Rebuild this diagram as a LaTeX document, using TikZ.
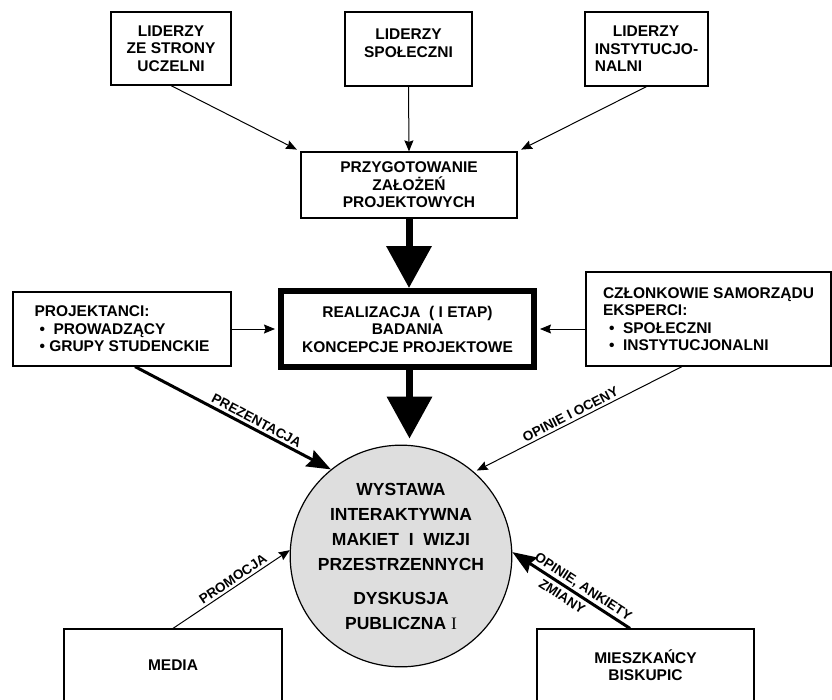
\documentclass[tikz,border=0pt]{standalone}
\usepackage{fontspec}
\setmainfont{Liberation Sans}
\newfontfamily\romanfont{Liberation Serif}
\usetikzlibrary{arrows.meta}

\tikzset{
  box/.style={draw, line width=1.2pt, inner sep=0pt, align=center,
    font=\fontsize{15.5}{17.5}\selectfont\bfseries},
  thin arrow/.style={line width=1pt, -{Stealth[length=11pt,width=9pt,inset=1.5pt]}},
  thick arrow/.style={line width=3pt, -{Stealth[length=24pt,width=18pt,inset=3pt]}},
  big arrow/.style={line width=7pt, -{Triangle[length=42pt,width=44pt]}},
  tag/.style={font=\fontsize{13.5}{14}\selectfont\bfseries, sloped, inner sep=2.5pt}
}

\begin{document}
\begin{tikzpicture}[x=1pt,y=-1pt]
    \path[use as bounding box, clip] (0,0) rectangle (832,699);

    % liderzy
    \node[box, minimum width=120pt, minimum height=73pt] (uczelnia) at (171,48.5)
        {LIDERZY\\ZE STRONY\\UCZELNI};
    \node[box, minimum width=127pt, minimum height=74pt] (spoleczni) at (408.5,49)
        {LIDERZY\\SPOŁECZNI\\[-6pt]\mbox{}};
    \node[box, align=left, minimum width=123pt, minimum height=74pt] (instytucje) at (646.5,49)
        {\hspace*{18pt}LIDERZY\\INSTYTUCJO-\\NALNI};

    \node[box, minimum width=216pt, minimum height=66pt] (przygotowanie) at (409,185)
        {PRZYGOTOWANIE\\ZAŁOŻEŃ\\PROJEKTOWYCH};

    \node[box, line width=6pt, minimum width=253pt, minimum height=76pt] (realizacja) at (407.5,329)
        {REALIZACJA \ ( I ETAP)\\BADANIA\\KONCEPCJE PROJEKTOWE};

    \node[box, align=left, minimum width=218pt, minimum height=74pt] (projektanci) at (122,329)
        {PROJEKTANCI:\\\hspace*{5pt}\textbullet\ \ PROWADZĄCY\\\hspace*{5pt}\textbullet\ GRUPY STUDENCKIE};
    \node[box, align=left, minimum width=245pt, minimum height=94pt] (czlonkowie) at (708.5,319)
        {CZŁONKOWIE SAMORZĄDU\\EKSPERCI:\\\hspace*{6pt}\textbullet\ \ SPOŁECZNI\\\hspace*{6pt}\textbullet\ \ INSTYTUCJONALNI};

    \node[circle, draw, line width=1.2pt, fill=black!13, minimum size=206pt, inner sep=0pt,
        align=center, font=\fontsize{17.5}{25}\selectfont\bfseries] (wystawa) at (401,556)
        {WYSTAWA\\INTERAKTYWNA\\MAKIET\ \ I\ \ WIZJI\\PRZESTRZENNYCH\\[9pt]
         DYSKUSJA\\PUBLICZNA {\romanfont\mdseries I}};

    \node[box, minimum width=218pt, minimum height=72pt] (media) at (173,665) {MEDIA};
    \node[box, minimum width=217pt, minimum height=72pt] (mieszkancy) at (645.5,665)
        {MIESZKAŃCY\\BISKUPIC};

    % strzalki
    \draw[thin arrow, shorten >=4pt] (uczelnia.south) -- (przygotowanie.north west);
    \draw[thin arrow] (spoleczni.south) -- (przygotowanie.north);
    \draw[thin arrow, shorten >=4pt] (instytucje.south) -- (przygotowanie.north east);

    \draw[big arrow] (przygotowanie.south) -- (przygotowanie.south |- realizacja.north);
    \draw[big arrow, shorten >=6pt] ([xshift=2pt]realizacja.south) -- ([xshift=2pt]realizacja.south |- wystawa.north);

    \draw[thin arrow, shorten >=3pt] (projektanci.east) -- (realizacja.west);
    \draw[thin arrow, shorten >=3pt] (czlonkowie.west |- realizacja.east) -- (realizacja.east);

    \draw[thick arrow] ([xshift=13pt]projektanci.south) -- (wystawa.129)
        node[tag, above, pos=0.6] {PREZENTACJA};
    \draw[thin arrow, shorten >=3pt] ([xshift=-26.5pt]czlonkowie.south) -- (wystawa.49)
        node[tag, above, pos=0.52] {OPINIE I OCENY};
    \draw[thin arrow] (media.north) -- (wystawa.177)
        node[tag, above, pos=0.55] {PROMOCJA};
    \draw[thick arrow] ([xshift=-15.5pt]mieszkancy.north) -- (wystawa.2)
        node[tag, above, pos=0.44, inner sep=1.5pt] {OPINIE, ANKIETY}
        node[tag, below, pos=0.53, inner sep=4pt] {ZMIANY};
\end{tikzpicture}
\end{document}
